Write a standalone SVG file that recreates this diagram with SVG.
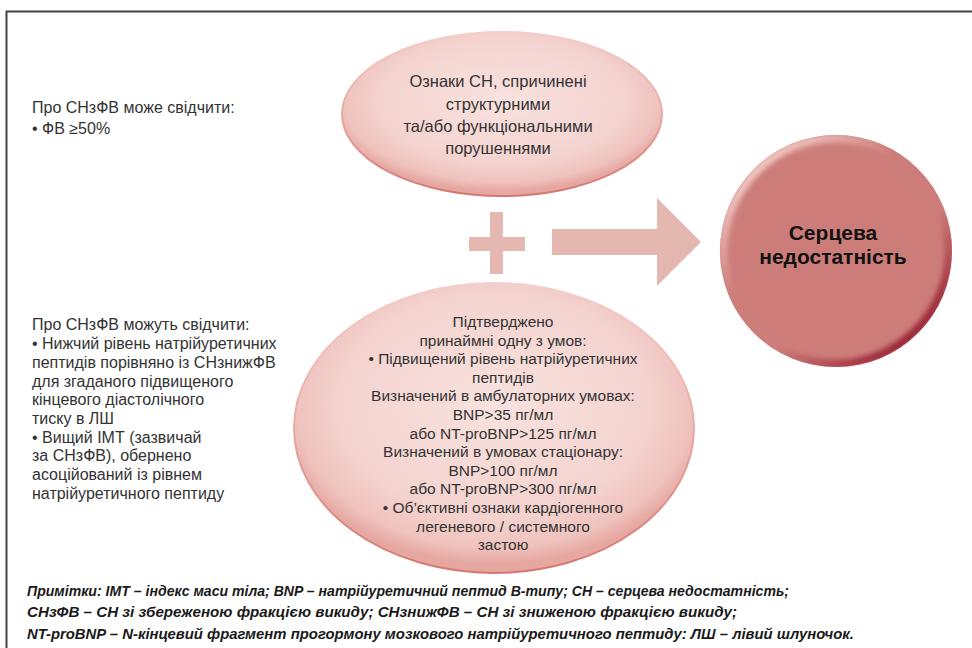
<svg xmlns="http://www.w3.org/2000/svg" width="972" height="648" viewBox="0 0 972 648">
  <defs>
    <style>
      .body { font-family: "Liberation Sans", Arial, sans-serif; font-size: 16px; fill: #333; }
      .oval { font-family: "Liberation Sans", Arial, sans-serif; font-size: 15.5px; fill: #333; text-anchor: middle; }
      .title { font-family: "Liberation Sans", Arial, sans-serif; font-size: 21px; font-weight: bold; fill: #111; text-anchor: middle; }
      .note { font-family: "Liberation Sans", Arial, sans-serif; font-size: 15px; font-style: italic; font-weight: bold; fill: #1a1a1a; }
      .sign { fill: #e4b7b1; }
      .frame { fill: none; stroke: #444; stroke-width: 2; }
    </style>
    <!-- soft pink bevel fill for the two condition ovals -->
    <radialGradient id="ovalFill" cx="50%" cy="42%" r="55%">
      <stop offset="0" stop-color="#f8e2df"/>
      <stop offset="0.7" stop-color="#f4d3cf"/>
      <stop offset="0.9" stop-color="#efc2bd"/>
      <stop offset="1" stop-color="#e6a7a1"/>
    </radialGradient>
    <linearGradient id="ovalRim" x1="0" y1="0" x2="0" y2="1">
      <stop offset="0" stop-color="#f3cfcb"/>
      <stop offset="0.5" stop-color="#e8aaa4"/>
      <stop offset="1" stop-color="#d4766f"/>
    </linearGradient>
    <!-- result circle: flat salmon body with light top-left and dark bottom-right rim -->
    <linearGradient id="ballRim" x1="0.15" y1="0.1" x2="0.85" y2="0.9">
      <stop offset="0" stop-color="#f2ccc8"/>
      <stop offset="0.35" stop-color="#cd7d79"/>
      <stop offset="0.65" stop-color="#cd7d79"/>
      <stop offset="1" stop-color="#961f33"/>
    </linearGradient>
    <clipPath id="ballClip">
      <circle cx="836" cy="251" r="116"/>
    </clipPath>
    <filter id="soft" x="-10%" y="-10%" width="120%" height="120%">
      <feGaussianBlur stdDeviation="2.5"/>
    </filter>
  </defs>

  <rect width="972" height="648" fill="#fff"/>

  <!-- frame: top rule and left rule -->
  <path class="frame" d="M6.5,648 V11.5 H972"/>

  <!-- left-hand explanatory notes -->
  <g id="hfpef-ef">
    <text class="body" x="32" y="113">Про СНзФВ може свідчити:</text>
    <text class="body" x="32" y="134">• ФВ ≥50%</text>
  </g>
  <g id="hfpef-markers">
    <text class="body" x="32" y="330">Про СНзФВ можуть свідчити:</text>
    <text class="body" x="32" y="349">• Нижчий рівень натрійуретичних</text>
    <text class="body" x="32" y="368">пептидів порівняно із СНзнижФВ</text>
    <text class="body" x="32" y="387">для згаданого підвищеного</text>
    <text class="body" x="32" y="405">кінцевого діастолічного</text>
    <text class="body" x="32" y="424">тиску в ЛШ</text>
    <text class="body" x="32" y="443">• Вищий ІМТ (зазвичай</text>
    <text class="body" x="32" y="461">за СНзФВ), обернено</text>
    <text class="body" x="32" y="480">асоційований із рівнем</text>
    <text class="body" x="32" y="499">натрійуретичного пептиду</text>
  </g>

  <!-- top oval: structural / functional signs -->
  <g id="signs">
    <ellipse cx="502" cy="114" rx="160" ry="82" fill="url(#ovalFill)" stroke="url(#ovalRim)" stroke-width="2"/>
    <g class="oval" style="font-size:16.5px">
      <text x="498" y="87">Ознаки СН, спричинені</text>
      <text x="498" y="110">структурними</text>
      <text x="498" y="132">та/або функціональними</text>
      <text x="498" y="154">порушеннями</text>
    </g>
  </g>

  <!-- bottom oval: confirmation criteria -->
  <g id="criteria">
    <ellipse cx="494" cy="428" rx="200" ry="145" fill="url(#ovalFill)" stroke="url(#ovalRim)" stroke-width="2"/>
    <g class="oval">
      <text x="503" y="327">Підтверджено</text>
      <text x="503" y="346">принаймні одну з умов:</text>
      <text x="503" y="364">• Підвищений рівень натрійуретичних</text>
      <text x="503" y="383">пептидів</text>
      <text x="503" y="401">Визначений в амбулаторних умовах:</text>
      <text x="503" y="420">BNP&gt;35 пг/мл</text>
      <text x="503" y="439">або NT-proBNP&gt;125 пг/мл</text>
      <text x="503" y="457">Визначений в умовах стаціонару:</text>
      <text x="503" y="476">BNP&gt;100 пг/мл</text>
      <text x="503" y="494">або NT-proBNP&gt;300 пг/мл</text>
      <text x="503" y="513">• Об’єктивні ознаки кардіогенного</text>
      <text x="503" y="532">легеневого / системного</text>
      <text x="503" y="550">застою</text>
    </g>
  </g>

  <!-- result: heart failure -->
  <g id="heart-failure">
    <circle cx="836" cy="251" r="116" fill="#cd7d79"/>
    <circle cx="836" cy="251" r="113" fill="none" stroke="url(#ballRim)" stroke-width="9" clip-path="url(#ballClip)" filter="url(#soft)"/>
    <text class="title" x="833" y="240">Серцева</text>
    <text class="title" x="833" y="264">недостатність</text>
  </g>

  <!-- plus and arrow joining the conditions to the result -->
  <g id="connectors">
    <path class="sign" d="M490,212 H503 V237 H525 V251 H503 V274 H490 V251 H469 V237 H490 Z"/>
    <path class="sign" d="M552,229 H657 V198 L701,242 L657,286 V255 H552 Z"/>
  </g>

  <!-- abbreviations -->
  <g id="footnote">
    <text class="note" x="27" y="596" textLength="762" lengthAdjust="spacingAndGlyphs">Примітки: ІМТ – індекс маси тіла; BNP – натрійуретичний пептид В-типу; СН – серцева недостатність;</text>
    <text class="note" x="27" y="617" textLength="710" lengthAdjust="spacingAndGlyphs">СНзФВ – СН зі збереженою фракцією викиду; СНзнижФВ – СН зі зниженою фракцією викиду;</text>
    <text class="note" x="27" y="639" textLength="827" lengthAdjust="spacingAndGlyphs">NT-proBNP – N-кінцевий фрагмент прогормону мозкового натрійуретичного пептиду: ЛШ – лівий шлуночок.</text>
  </g>
</svg>
